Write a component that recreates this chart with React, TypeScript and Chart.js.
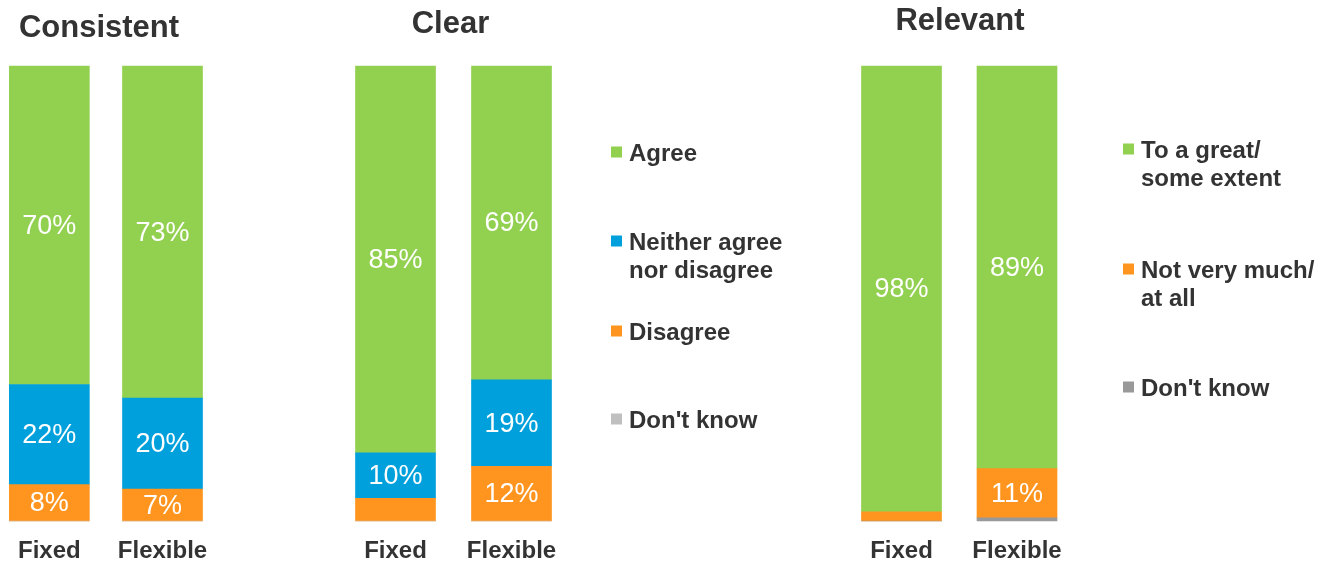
import React, { useEffect, useRef } from "react";
import { Chart, registerables } from "chart.js";

Chart.register(...registerables);

// ---------- data ----------
const groups = ["Fixed", "Flexible"];

const consistentAgree = [70, 73];
const consistentNeither = [22, 20];
const consistentDisagree = [8, 7];
const consistentDontKnow = [0, 0];

const clearAgree = [85, 69];
const clearNeither = [10, 19];
const clearDisagree = [5, 12];
const clearDontKnow = [0, 0];

const relevantGreat = [98, 88.5];
const relevantNotMuch = [2, 10.8];
const relevantDontKnow = [0, 0.7];

const agreeLegend = ["Agree", "Neither agree\nnor disagree", "Disagree", "Don't know"];
const relevantLegend = ["To a great/\nsome extent", "Not very much/\nat all", "Don't know"];

// ---------- styles ----------
const GREEN = "#92D050";
const BLUE = "#00A0DC";
const ORANGE = "#FF951E";
const LIGHT_GRAY = "#BFBFBF";
const DARK_GRAY = "#999999";
const TEXT = "#333333";
const FONT = "'Liberation Sans', Arial, sans-serif";

type Series = { label: string; data: number[]; color: string };
type Panel = {
  title: string;
  titleX: number;
  titleBaseline: number;
  left: number;
  right: number;
  series: Series[]; // bottom to top
  legend?: { x: number; items: { text: string; color: string; cy: number }[] };
};

const panels: Panel[] = [
  {
    title: "Consistent",
    titleX: 99,
    titleBaseline: 37,
    left: 47.5,
    right: 162.5,
    series: [
      { label: agreeLegend[3], data: consistentDontKnow, color: LIGHT_GRAY },
      { label: agreeLegend[2], data: consistentDisagree, color: ORANGE },
      { label: agreeLegend[1], data: consistentNeither, color: BLUE },
      { label: agreeLegend[0], data: consistentAgree, color: GREEN },
    ],
  },
  {
    title: "Clear",
    titleX: 450.5,
    titleBaseline: 33,
    left: 395.5,
    right: 511.5,
    series: [
      { label: agreeLegend[3], data: clearDontKnow, color: LIGHT_GRAY },
      { label: agreeLegend[2], data: clearDisagree, color: ORANGE },
      { label: agreeLegend[1], data: clearNeither, color: BLUE },
      { label: agreeLegend[0], data: clearAgree, color: GREEN },
    ],
    legend: {
      x: 611,
      items: [
        { text: agreeLegend[0], color: GREEN, cy: 152 },
        { text: agreeLegend[1], color: BLUE, cy: 241 },
        { text: agreeLegend[2], color: ORANGE, cy: 331 },
        { text: agreeLegend[3], color: LIGHT_GRAY, cy: 419 },
      ],
    },
  },
  {
    title: "Relevant",
    titleX: 960,
    titleBaseline: 30,
    left: 901.5,
    right: 1017,
    series: [
      { label: relevantLegend[2], data: relevantDontKnow, color: DARK_GRAY },
      { label: relevantLegend[1], data: relevantNotMuch, color: ORANGE },
      { label: relevantLegend[0], data: relevantGreat, color: GREEN },
    ],
    legend: {
      x: 1123,
      items: [
        { text: relevantLegend[0], color: GREEN, cy: 149 },
        { text: relevantLegend[1], color: ORANGE, cy: 269 },
        { text: relevantLegend[2], color: DARK_GRAY, cy: 387 },
      ],
    },
  },
];

const W = 1320;
const H = 562;
const CH = 600; // canvas height (clipped by container)
const TICK_PAD = 18;

function PanelChart({ panel }: { panel: Panel }) {
  const ref = useRef<HTMLCanvasElement | null>(null);
  useEffect(() => {
    if (!ref.current) return;
    const decor = {
      id: "decor",
      afterDatasetsDraw(chart: any) {
        const ctx = chart.ctx;
        ctx.save();
        // value labels
        ctx.fillStyle = "#ffffff";
        ctx.font = `normal 27px ${FONT}`;
        ctx.textAlign = "center";
        ctx.textBaseline = "middle";
        chart.data.datasets.forEach((ds: any, i: number) => {
          const meta = chart.getDatasetMeta(i);
          meta.data.forEach((bar: any, j: number) => {
            const v = ds.data[j] as number;
            if (v < 7) return;
            const p = bar.getProps(["x", "y", "base"], true);
            ctx.fillText(Math.round(v) + "%", p.x, (p.y + p.base) / 2 + 1);
          });
        });
        // title
        ctx.fillStyle = TEXT;
        ctx.font = `bold 31px ${FONT}`;
        ctx.textBaseline = "alphabetic";
        ctx.fillText(panel.title, panel.titleX, panel.titleBaseline);
        // legend
        if (panel.legend) {
          const lg = panel.legend;
          ctx.font = `bold 24px ${FONT}`;
          ctx.textAlign = "left";
          lg.items.forEach((it) => {
            ctx.fillStyle = it.color;
            ctx.fillRect(lg.x, it.cy - 5.5, 11, 11);
            ctx.fillStyle = TEXT;
            it.text.split("\n").forEach((line, k) => {
              ctx.fillText(line, lg.x + 18, it.cy + 8.5 + k * 28);
            });
          });
        }
        ctx.restore();
      },
    };
    const chart = new Chart(ref.current, {
      type: "bar",
      data: {
        labels: groups,
        datasets: panel.series.map((s) => ({
          label: s.label,
          data: s.data,
          backgroundColor: s.color,
          borderWidth: 0,
          barThickness: 80,
          clip: false as any,
        })),
      },
      options: {
        responsive: false,
        animation: false,
        events: [],
        layout: {
          padding: {
            left: panel.left,
            right: W - panel.right,
            top: 66,
            bottom: CH - 521 - (24 + 2 * TICK_PAD),
          },
        },
        plugins: {
          legend: { display: false },
          title: { display: false },
          tooltip: { enabled: false },
        },
        scales: {
          x: {
            stacked: true,
            offset: false,
            grid: { display: false, drawTicks: false },
            border: { display: false },
            ticks: {
              color: TEXT,
              padding: TICK_PAD,
              font: { family: FONT, size: 24, weight: "bold", lineHeight: 1 },
              autoSkip: false,
              maxRotation: 0,
            },
          },
          y: {
            stacked: true,
            display: false,
            min: 0,
            max: 100,
          },
        },
      },
      plugins: [decor],
    });
    return () => chart.destroy();
  }, [panel]);
  return (
    <canvas
      ref={ref}
      width={W}
      height={CH}
      style={{ position: "absolute", left: 0, top: 0, width: W, height: CH }}
    />
  );
}

export default function App() {
  return (
    <div
      style={{
        position: "absolute",
        left: 0,
        top: 0,
        width: W,
        height: H,
        background: "#ffffff",
        overflow: "hidden",
      }}
    >
      {panels.map((p) => (
        <PanelChart key={p.title} panel={p} />
      ))}
    </div>
  );
}
